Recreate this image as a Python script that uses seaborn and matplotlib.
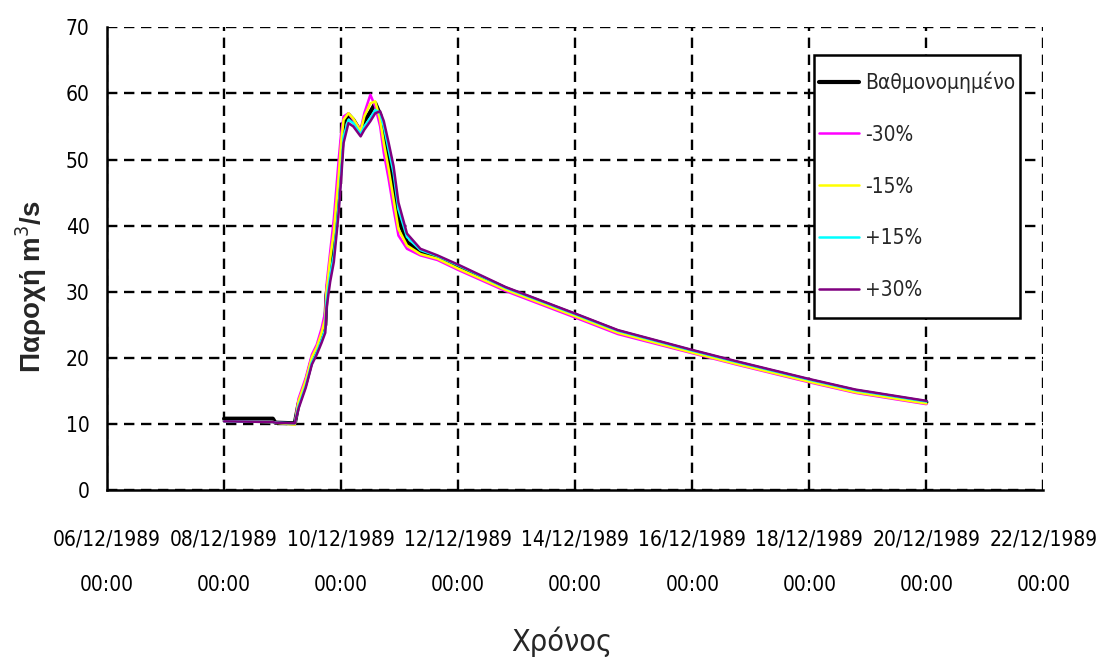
import numpy as np
import pandas as pd
import matplotlib
matplotlib.use("Agg")
import matplotlib.pyplot as plt
import matplotlib.dates as mdates
import seaborn as sns

# Hours after 08/12/1989 00:00 at which the hydrographs are sampled
hours = [0, 20, 21, 29, 30.5, 33.5, 36, 38, 40, 41.5, 42, 43.5, 45, 47, 48, 49,
         51, 53, 56, 57.5, 60, 62, 64, 65.5, 67.5, 69.5, 71.5, 75, 80.5, 87.5,
         96, 115.5, 144, 161.5, 192, 210, 240, 259, 288]

# Discharge (m3/s) of the calibrated model
q_calibrated = [10.8, 10.8, 10.2, 10.1, 13.0, 16.2, 19.7, 21.2, 23.2, 25.0, 29.5,
                33.5, 37.0, 45.0, 50.0, 55.5, 56.8, 56.0, 54.2, 55.8, 57.2, 58.5,
                56.8, 54.0, 50.2, 46.5, 41.0, 37.5, 36.0, 35.2, 33.8, 30.5, 26.5,
                24.0, 21.0, 19.3, 16.6, 15.0, 13.3]
# Roughness -30 %
q_minus30 = [10.4, 10.3, 10.2, 10.0, 13.8, 17.0, 20.5, 22.0, 24.5, 27.0, 31.0,
             36.0, 41.0, 50.0, 54.0, 56.5, 57.0, 56.0, 54.5, 57.0, 59.8, 58.0,
             55.0, 51.0, 47.0, 42.5, 38.5, 36.5, 35.5, 34.8, 33.3, 30.1, 26.1,
             23.6, 20.7, 19.0, 16.3, 14.7, 13.0]
# Roughness -15 %
q_minus15 = [10.4, 10.3, 10.2, 9.9, 13.4, 16.6, 20.1, 21.6, 23.8, 26.0, 30.0,
             35.0, 39.0, 47.5, 52.5, 56.0, 57.0, 56.2, 54.3, 56.5, 58.5, 58.8,
             56.0, 52.5, 48.5, 44.0, 39.5, 37.0, 35.7, 35.0, 33.5, 30.3, 26.3,
             23.8, 20.8, 19.1, 16.4, 14.8, 13.1]
# Roughness +15 %
q_plus15 = [10.4, 10.3, 10.2, 10.1, 12.6, 15.8, 19.3, 20.8, 22.7, 24.3, 28.5,
            32.5, 35.5, 43.0, 48.0, 53.5, 56.0, 55.5, 53.8, 55.0, 56.3, 57.5,
            57.0, 55.0, 51.5, 48.0, 42.5, 38.3, 36.3, 35.4, 34.0, 30.6, 26.6,
            24.1, 21.1, 19.4, 16.7, 15.1, 13.4]
# Roughness +30 %
q_plus30 = [10.4, 10.3, 10.2, 10.1, 12.3, 15.5, 19.0, 20.5, 22.3, 23.8, 27.5,
            31.5, 34.5, 42.0, 47.0, 52.5, 55.5, 55.0, 53.5, 54.5, 55.8, 57.0,
            57.3, 55.8, 52.5, 49.0, 43.5, 38.8, 36.5, 35.5, 34.1, 30.7, 26.7,
            24.2, 21.2, 19.5, 16.8, 15.2, 13.5]

series_names = ["Βαθμονομημένο", "-30%", "-15%", "+15%", "+30%"]
series_values = [q_calibrated, q_minus30, q_minus15, q_plus15, q_plus30]
series_colors = ["#000000", "#FF00FF", "#FFFF00", "#00FFFF", "#800080"]
series_widths = [3.0, 1.8, 1.8, 1.8, 1.8]

y_ticks = [0, 10, 20, 30, 40, 50, 60, 70]
x_start, x_end = "1989-12-06", "1989-12-22"

sns.set_style("white")
plt.rcParams["font.family"] = ["DejaVu Sans"]
plt.rcParams["font.stretch"] = "condensed"

times = pd.Timestamp("1989-12-08 00:00") + pd.to_timedelta(hours, unit="h")

fig = plt.figure(figsize=(10.99, 6.65), dpi=100)
ax = fig.add_axes([0.0974, 0.263, 0.852, 0.696])

for name, vals, col, lw in zip(series_names, series_values, series_colors, series_widths):
    df = pd.DataFrame({"t": times, "q": vals})
    sns.lineplot(data=df, x="t", y="q", ax=ax, color=col, linewidth=lw,
                 label=name, estimator=None, sort=False)

ax.set_xlim(pd.Timestamp(x_start), pd.Timestamp(x_end))
ax.set_ylim(y_ticks[0], y_ticks[-1])
ax.set_yticks(y_ticks)
ax.xaxis.set_major_locator(mdates.DayLocator(interval=2))
ax.xaxis.set_major_formatter(mdates.DateFormatter("%d/%m/%Y\n%H:%M"))

ax.grid(True, color="black", linestyle=(0, (4.4, 2.8)), linewidth=1.7)
for side in ["top", "right"]:
    ax.spines[side].set_visible(False)
for side in ["left", "bottom"]:
    ax.spines[side].set_color("black")
    ax.spines[side].set_linewidth(1.8)

ax.tick_params(axis="both", direction="inout", length=13, width=1.6,
               colors="black", labelsize=15)
ax.tick_params(axis="x", pad=22)
ax.tick_params(axis="y", pad=6)
for lab in ax.get_xticklabels():
    lab.set_linespacing(2.6)

ax.set_ylabel("Παροχή m$^3$/s", fontsize=20, fontweight="bold",
              family=["Liberation Sans", "DejaVu Sans"], fontstretch="normal")
ax.yaxis.set_label_coords(-0.062, 0.44)
ax.set_xlabel("Χρόνος", fontsize=22, family=["DejaVu Sans"],
              fontstretch="condensed")
ax.xaxis.set_label_coords(0.486, -0.295)

leg = ax.legend(loc="upper right", bbox_to_anchor=(0.9754, 0.9395),
                frameon=True, fancybox=False, edgecolor="black", fontsize=15,
                handlelength=1.9, handleheight=2.9, handletextpad=0.3,
                labelspacing=0.36, borderpad=0.25, borderaxespad=0)
leg.get_frame().set_linewidth(1.8)
leg.get_frame().set_facecolor("white")
leg.get_frame().set_alpha(1)
# centre each key line on its label
for handle_line in leg.get_lines():
    handle_line.set_ydata(np.asarray(handle_line.get_ydata()) - 5)

fig.savefig("out.png", dpi=100)
